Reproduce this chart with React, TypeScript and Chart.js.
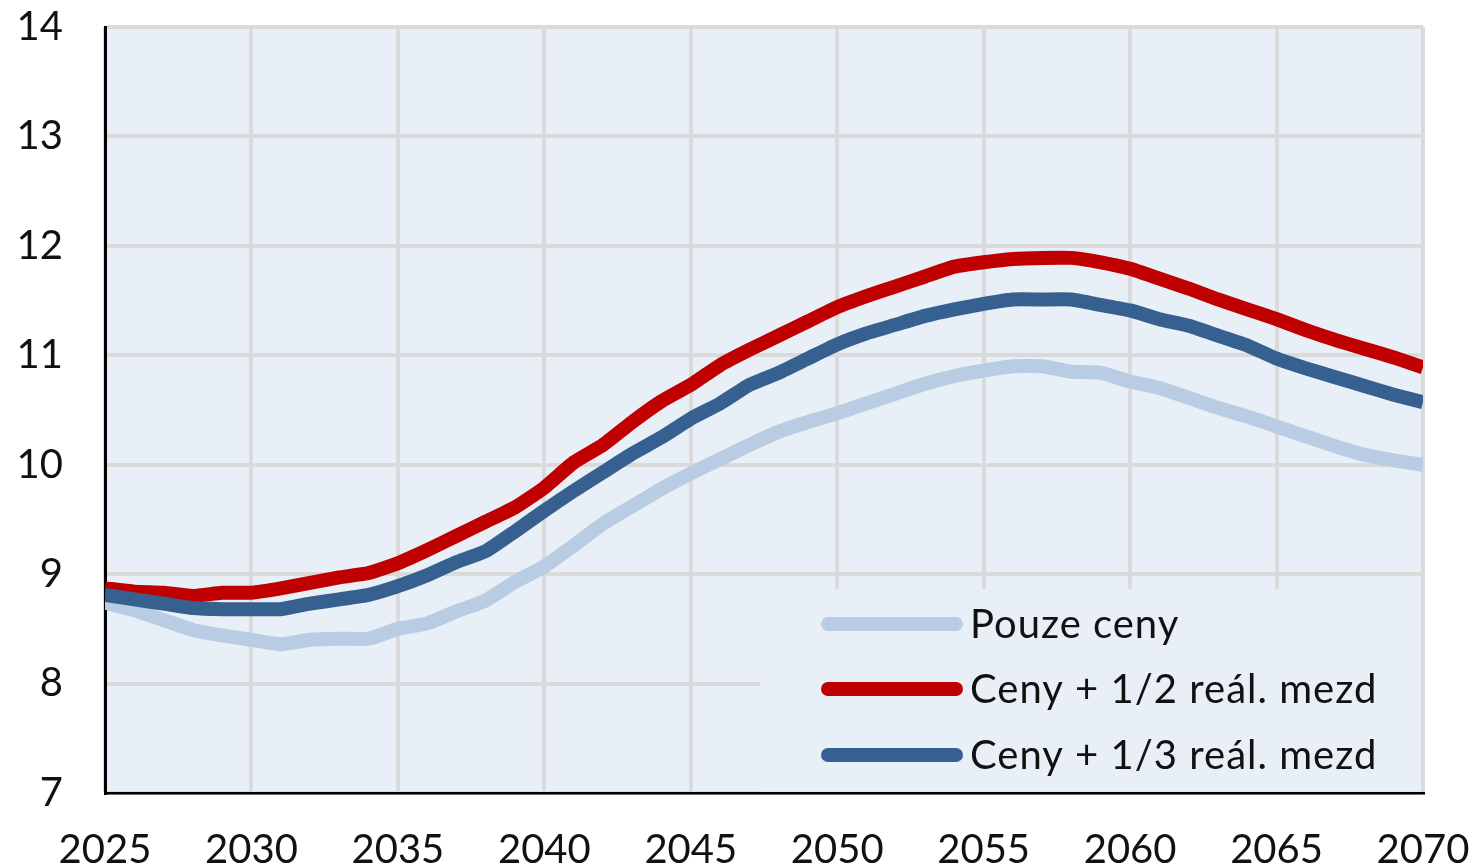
import React, { useEffect, useRef } from "react";
import { Chart, registerables } from "chart.js";

Chart.register(...registerables);

const years = [
  2025, 2026, 2027, 2028, 2029, 2030, 2031, 2032, 2033, 2034,
  2035, 2036, 2037, 2038, 2039, 2040, 2041, 2042, 2043, 2044,
  2045, 2046, 2047, 2048, 2049, 2050, 2051, 2052, 2053, 2054,
  2055, 2056, 2057, 2058, 2059, 2060, 2061, 2062, 2063, 2064,
  2065, 2066, 2067, 2068, 2069, 2070,
];

const pouzeCeny = [
  8.74, 8.67, 8.58, 8.49, 8.44, 8.40, 8.36, 8.40, 8.41, 8.41,
  8.50, 8.55, 8.66, 8.76, 8.93, 9.07, 9.26, 9.46, 9.62, 9.78,
  9.92, 10.05, 10.18, 10.30, 10.39, 10.47, 10.56, 10.65, 10.74, 10.81,
  10.86, 10.90, 10.90, 10.85, 10.84, 10.76, 10.70, 10.61, 10.52, 10.44,
  10.35, 10.26, 10.17, 10.09, 10.04, 10.00,
];

const cenyPolovina = [
  8.87, 8.84, 8.83, 8.80, 8.83, 8.83, 8.87, 8.92, 8.97, 9.01,
  9.10, 9.22, 9.35, 9.48, 9.61, 9.79, 10.02, 10.18, 10.39, 10.58,
  10.73, 10.91, 11.05, 11.18, 11.31, 11.44, 11.54, 11.63, 11.72, 11.81,
  11.85, 11.88, 11.89, 11.89, 11.85, 11.79, 11.70, 11.61, 11.51, 11.42,
  11.33, 11.23, 11.14, 11.06, 10.98, 10.89,
];

const cenyTretina = [
  8.81, 8.77, 8.73, 8.69, 8.68, 8.68, 8.68, 8.73, 8.77, 8.81,
  8.89, 8.99, 9.11, 9.21, 9.39, 9.58, 9.76, 9.93, 10.10, 10.25,
  10.42, 10.56, 10.73, 10.84, 10.97, 11.10, 11.20, 11.28, 11.36, 11.42,
  11.47, 11.51, 11.51, 11.51, 11.46, 11.41, 11.33, 11.27, 11.18, 11.09,
  10.97, 10.88, 10.80, 10.72, 10.64, 10.57,
];

const seriesLabels = ["Pouze ceny", "Ceny + 1/2 reál. mezd", "Ceny + 1/3 reál. mezd"];
const seriesColors = ["#B8CCE4", "#C00000", "#35608F"];

const yMin = 7;
const yMax = 14;
const xMin = 2025;
const xMax = 2070;

const FONT = "Lato, 'Open Sans', sans-serif";
const PLOT_BG = "#E8EFF6";
const GRID = "#DADADA";

const toPoints = (vals: number[]) => years.map((y, i) => ({ x: y, y: vals[i] }));

const bgPlugin = {
  id: "plotBg",
  beforeDraw(chart: any) {
    const { ctx, chartArea } = chart;
    ctx.save();
    ctx.fillStyle = PLOT_BG;
    ctx.fillRect(chartArea.left, chartArea.top, chartArea.right - chartArea.left, chartArea.bottom - chartArea.top);
    ctx.restore();
  },
};

const legendPlugin = {
  id: "boxLegend",
  beforeDatasetsDraw(chart: any) {
    const { ctx, chartArea } = chart;
    const boxLeft = chartArea.right - 663;
    const boxTop = chartArea.bottom - 204;
    ctx.save();
    ctx.fillStyle = PLOT_BG;
    ctx.fillRect(boxLeft, boxTop, chartArea.right - 2 - boxLeft, chartArea.bottom - 1.5 - boxTop);
    const rowYs = [chartArea.bottom - 169, chartArea.bottom - 104, chartArea.bottom - 38];
    const sx0 = chartArea.right - 595;
    const sx1 = chartArea.right - 467;
    seriesLabels.forEach((label, i) => {
      const y = rowYs[i];
      ctx.strokeStyle = seriesColors[i];
      ctx.lineWidth = 14;
      ctx.lineCap = "round";
      ctx.beginPath();
      ctx.moveTo(sx0, y);
      ctx.lineTo(sx1, y);
      ctx.stroke();
      ctx.fillStyle = "#111";
      ctx.font = `40px ${FONT}`;
      (ctx as any).letterSpacing = "1px";
      ctx.textAlign = "left";
      ctx.textBaseline = "middle";
      ctx.fillText(label, chartArea.right - 453, y + 1);
      (ctx as any).letterSpacing = "0px";
    });
    ctx.restore();
  },
};

export default function App() {
  const ref = useRef<HTMLCanvasElement | null>(null);
  useEffect(() => {
    document.body.style.margin = "0";
    const canvas = ref.current;
    if (!canvas) return;
    const lineDs = (i: number, vals: number[], order: number) => ({
      label: seriesLabels[i],
      data: toPoints(vals),
      borderColor: seriesColors[i],
      backgroundColor: seriesColors[i],
      borderWidth: 14,
      pointRadius: 0,
      tension: 0.15,
      borderJoinStyle: "round" as const,
      borderCapStyle: "butt" as const,
      fill: false,
      order,
    });
    const chart = new Chart(canvas, {
      type: "line",
      data: {
        datasets: [
          lineDs(0, pouzeCeny, 2),
          lineDs(1, cenyPolovina, 1),
          lineDs(2, cenyTretina, 0),
        ],
      },
      plugins: [bgPlugin, legendPlugin],
      options: {
        responsive: false,
        animation: false,
        layout: { padding: { top: 27, right: 50, bottom: 0, left: 0 } },
        plugins: { legend: { display: false }, tooltip: { enabled: false } },
        scales: {
          x: {
            type: "linear",
            min: xMin,
            max: xMax,
            afterFit: (s: any) => {
              s.height = 75;
              s.paddingLeft = 0;
              s.paddingRight = 0;
            },
            ticks: {
              stepSize: 5,
              padding: 33,
              maxRotation: 0,
              autoSkip: false,
              color: "#111",
              font: { family: FONT, size: 40 },
              callback: (v: any) => String(v),
            },
            grid: { color: GRID, lineWidth: 4, drawTicks: false },
            border: { color: "#000", width: 2.5 },
          },
          y: {
            min: yMin,
            max: yMax,
            afterFit: (s: any) => {
              s.width = 105;
              s.paddingTop = 0;
              s.paddingBottom = 0;
            },
            ticks: {
              stepSize: 1,
              padding: 42,
              color: "#111",
              font: { family: FONT, size: 40 },
              callback: (v: any) => String(v),
            },
            grid: { color: GRID, lineWidth: 4, drawTicks: false },
            border: { color: "#000", width: 3 },
          },
        },
      },
    });
    return () => chart.destroy();
  }, []);
  return <canvas ref={ref} width={1473} height={868} style={{ display: "block" }} />;
}
